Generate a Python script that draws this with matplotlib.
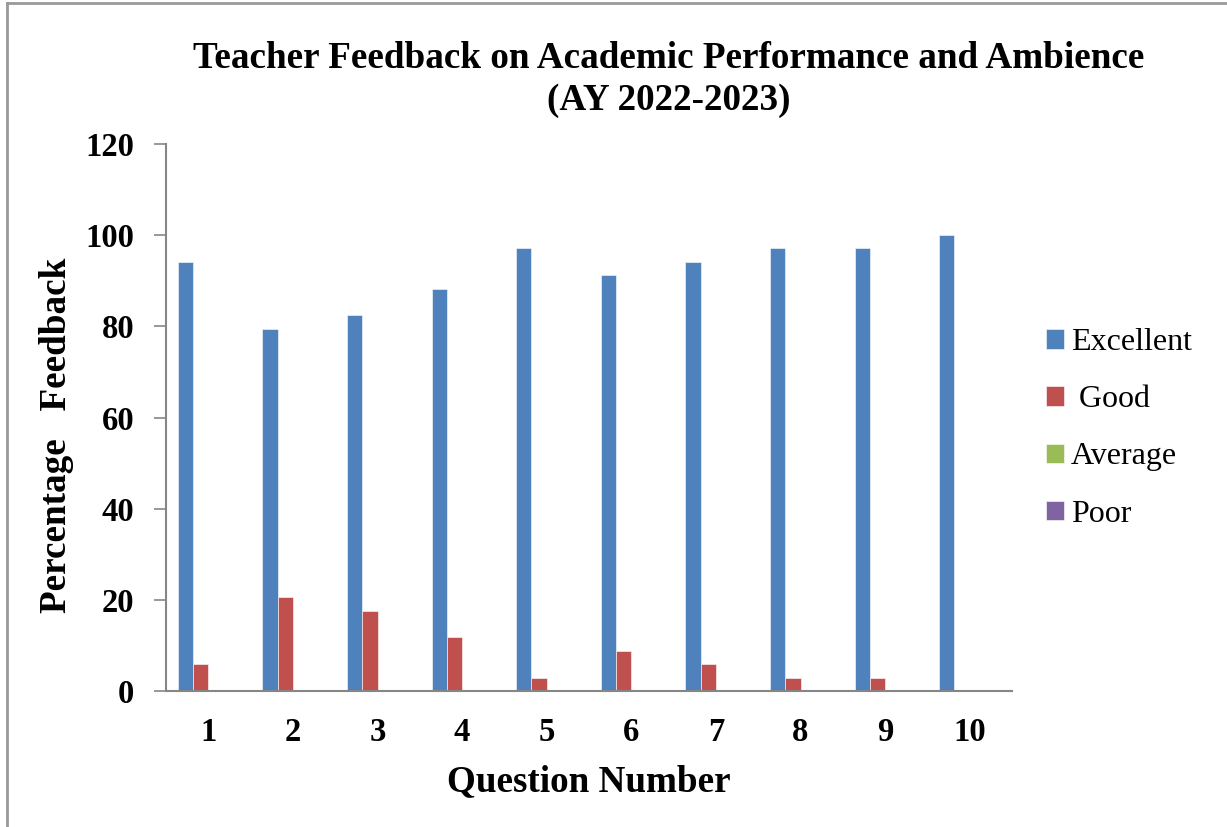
import numpy as np
import matplotlib
matplotlib.use('Agg')
import matplotlib.pyplot as plt
from matplotlib.lines import Line2D

questions = ['1', '2', '3', '4', '5', '6', '7', '8', '9', '10']
series_names = ['Excellent', ' Good', 'Average', 'Poor']
excellent = [94.1, 79.4, 82.4, 88.2, 97.1, 91.2, 94.1, 97.1, 97.1, 100]
good = [5.9, 20.6, 17.6, 11.8, 2.9, 8.8, 5.9, 2.9, 2.9, 0]
average = [0, 0, 0, 0, 0, 0, 0, 0, 0, 0]
poor = [0, 0, 0, 0, 0, 0, 0, 0, 0, 0]
colors = ['#4f81bd', '#c0504d', '#9bbb59', '#8064a2']

plt.rcParams['font.family'] = ['Liberation Serif', 'DejaVu Serif']

fig = plt.figure(figsize=(12.27, 8.27), dpi=100)
ax = fig.add_axes([166/1227, 1-691/827, (1012-166)/1227, (691-144)/827])

x = np.arange(len(questions))
w = 0.18
all_vals = [excellent, good, average, poor]
for k in range(4):
    ax.bar(x + (k - 1.5) * w, all_vals[k], w, color=colors[k], label=series_names[k],
           edgecolor='white', linewidth=0.4)

ax.set_xlim(-0.5, len(questions) - 0.5)
ax.set_ylim(0, 120)
ax.set_yticks(range(0, 121, 20))
ax.set_xticks(x)
ax.set_xticklabels(questions)
for s in ['top', 'right']:
    ax.spines[s].set_visible(False)
for s in ['left', 'bottom']:
    ax.spines[s].set_color('#868686')
    ax.spines[s].set_linewidth(1.5)
ax.tick_params(axis='y', length=9, width=1.2, color='#868686', pad=14, labelsize=23.5)
ax.tick_params(axis='x', length=0, pad=19, labelsize=23.5)
for t in ax.get_xticklabels() + ax.get_yticklabels():
    t.set_fontweight('bold')

ax.set_xlabel('Question Number', fontsize=26.7, fontweight='bold', labelpad=11)
ax.set_ylabel('Percentage   Feedback', fontsize=26.7, fontweight='bold', labelpad=8, y=0.467)
fig.text(0.545, 1-58/827, 'Teacher Feedback on Academic Performance and Ambience',
         ha='center', va='center', fontsize=26.7, fontweight='bold')
fig.text(0.545, 1-101/827, '(AY 2022-2023)',
         ha='center', va='center', fontsize=26.7, fontweight='bold')

leg = ax.legend(loc='center left', bbox_to_anchor=(1.014, 0.48), frameon=False, fontsize=23,
                handlelength=0.55, handleheight=0.55, handletextpad=0.22, labelspacing=0.88,
                borderaxespad=0.3)

# outer chart border (left and top visible)
fig.add_artist(Line2D([7/1227, 7/1227], [0, 1-3/827], color='#999999', lw=2))
fig.add_artist(Line2D([7/1227, 1], [1-3/827, 1-3/827], color='#999999', lw=2))

fig.savefig('out.png', dpi=100)
